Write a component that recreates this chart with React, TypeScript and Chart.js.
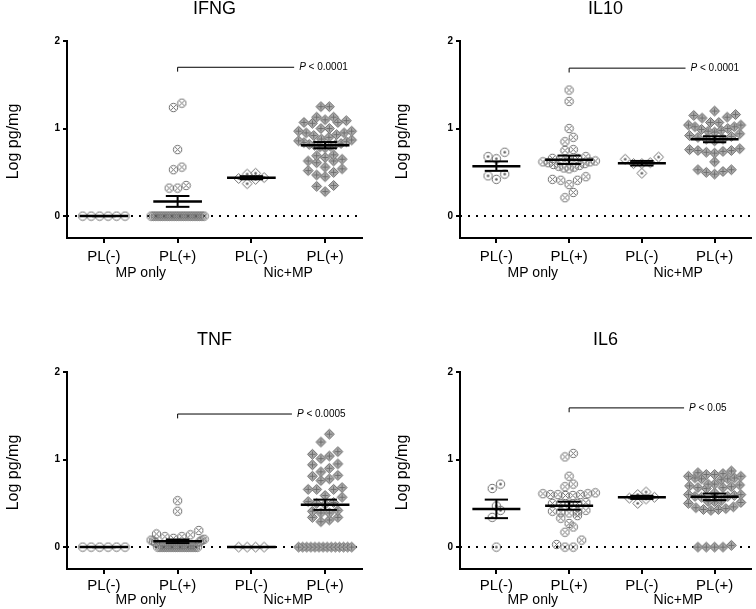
import React, { useEffect, useRef } from 'react';
import { Chart, registerables } from 'chart.js';

Chart.register(...registerables);

// ---------------- data ----------------
const CATEGORY_LABELS = ['PL(-)', 'PL(+)', 'PL(-)', 'PL(+)'];
const TREATMENT_LABELS = ['MP only', 'Nic+MP'];
const Y_TICKS = [0, 1, 2];

const ifngMpNeg = [0, 0, 0, 0, 0, 0];
const ifngMpPos = [1.24, 1.29, 0.76, 0.53, 0.56, 0.32, 0.32, 0.35,
  0, 0, 0, 0, 0, 0, 0, 0, 0, 0, 0, 0, 0, 0, 0, 0, 0, 0, 0, 0, 0, 0, 0, 0];
const ifngNicNeg = [0.48, 0.37, 0.42, 0.49, 0.44, 0.43];
const ifngNicPos = [1.25, 1.25, 1.13, 1.10, 1.07, 1.06, 1.07, 1.09, 1.13,
  1.0, 0.97, 0.95, 0.93, 0.95, 0.97, 1.0, 0.92, 0.90, 0.88, 0.87, 0.86, 0.85, 0.84,
  0.83, 0.82, 0.82, 0.81, 0.80, 0.79, 0.78, 0.70, 0.67, 0.63, 0.61, 0.63, 0.65, 0.69,
  0.56, 0.52, 0.54, 0.50, 0.47, 0.45, 0.35, 0.34, 0.28];

const il10MpNeg = [0.68, 0.655, 0.73, 0.48, 0.42, 0.46];
const il10MpPos = [1.44, 1.31, 1.0, 0.90, 0.85, 0.75, 0.76, 0.68, 0.66, 0.66, 0.65,
  0.64, 0.63, 0.62, 0.62, 0.61, 0.60, 0.59, 0.58, 0.57, 0.56, 0.55, 0.54,
  0.42, 0.41, 0.36, 0.41, 0.45, 0.27, 0.21];
const il10NicNeg = [0.65, 0.675, 0.61, 0.49, 0.60, 0.60];
const il10NicPos = [1.12, 1.15, 1.2, 1.16, 1.13, 1.07, 1.07, 1.04, 1.04, 1.02, 1.02,
  1.0, 0.99, 0.98, 0.97, 0.96, 0.94, 0.92, 0.91, 0.90, 0.88, 0.88, 0.86,
  0.77, 0.76, 0.75, 0.75, 0.74, 0.73, 0.72, 0.62, 0.53, 0.53, 0.51, 0.50, 0.48];

const tnfMpNeg = [0, 0, 0, 0, 0, 0];
const tnfMpPos = [0.53, 0.41, 0.19, 0.15, 0.14, 0.12, 0.12, 0.10, 0.09, 0.08, 0.08,
  0.07, 0.06, 0.05, 0, 0, 0, 0, 0, 0, 0, 0, 0, 0, 0, 0, 0, 0, 0, 0, 0, 0, 0];
const tnfNicNeg = [0, 0, 0, 0];
const tnfNicPos = [1.29, 1.2, 1.04, 1.09, 1.06, 0.95, 0.94, 1.01, 0.86, 0.90, 0.76,
  0.81, 0.82, 0.78, 0.66, 0.66, 0.66, 0.68, 0.59, 0.57, 0.42, 0.39, 0.34, 0.34, 0.39,
  0.41, 0.31, 0.29, 0.49, 0.51, 0.50, 0.52,
  0, 0, 0, 0, 0, 0, 0, 0, 0, 0, 0, 0, 0, 0];

const il6MpNeg = [0.67, 0.72, 0.42, 0.34, 0.47, 0];
const il6MpPos = [1.03, 1.07, 0.81, 0.72, 0.69, 0.62, 0.61, 0.61, 0.60, 0.60, 0.59,
  0.59, 0.60, 0.51, 0.50, 0.50, 0.49, 0.50, 0.42, 0.41, 0.40, 0.40, 0.39, 0.33, 0.36,
  0.23, 0.27, 0.17, 0.08, 0.03, 0, 0];
const il6NicNeg = [0.60, 0.50, 0.55, 0.63, 0.57, 0.56];
const il6NicPos = [0.85, 0.87, 0.84, 0.83, 0.81, 0.79, 0.78, 0.77, 0.78, 0.79, 0.81,
  0.83, 0.72, 0.71, 0.69, 0.68, 0.67, 0.68, 0.70, 0.72, 0.62, 0.60, 0.59, 0.58, 0.57,
  0.58, 0.60, 0.53, 0.52, 0.51, 0.50, 0.52, 0.46, 0.44, 0.43, 0.42, 0.43, 0.45,
  0.02, 0, 0, 0, 0];

const PANEL_TITLES = ['IFNG', 'IL10', 'TNF', 'IL6'];
const P_LABELS = ['< 0.0001', '< 0.0001', '< 0.0005', '< 0.05'];

// ---------------- layout / style ----------------
const FONT = '"Liberation Sans", Arial, Helvetica, sans-serif';

type Panel = {
  title: string;
  groups: number[][];
  styles: string[];
  left: number;
  top: number;
  axisLeft: number;
  rightPad: number;
  yTitleX: number;
  tickPad: number;
  groupY: number;
  bracketY: number;
  bracketEnd: number;
  p: string;
};

const PANELS: Panel[] = [
  { title: PANEL_TITLES[0], groups: [ifngMpNeg, ifngMpPos, ifngNicNeg, ifngNicPos],
    styles: ['circle', 'circleX', 'diamondDot', 'diamondPlus'],
    left: 0, top: 0, axisLeft: 67, rightPad: 16, yTitleX: 14, tickPad: 5, groupY: 277,
    bracketY: 1.70, bracketEnd: 2.58, p: P_LABELS[0] },
  { title: PANEL_TITLES[1], groups: [il10MpNeg, il10MpPos, il10NicNeg, il10NicPos],
    styles: ['circleDot', 'circleX', 'diamondDot', 'diamondPlus'],
    left: 378, top: 0, axisLeft: 82, rightPad: 0, yTitleX: 25, tickPad: 5, groupY: 277,
    bracketY: 1.69, bracketEnd: 2.6, p: P_LABELS[1] },
  { title: PANEL_TITLES[2], groups: [tnfMpNeg, tnfMpPos, tnfNicNeg, tnfNicPos],
    styles: ['circle', 'circleX', 'diamond', 'diamondPlus'],
    left: 0, top: 331, axisLeft: 67, rightPad: 16, yTitleX: 14, tickPad: 3, groupY: 273,
    bracketY: 1.52, bracketEnd: 2.55, p: P_LABELS[2] },
  { title: PANEL_TITLES[3], groups: [il6MpNeg, il6MpPos, il6NicNeg, il6NicPos],
    styles: ['circleDot', 'circleX', 'diamondDot', 'diamondPlus'],
    left: 378, top: 331, axisLeft: 82, rightPad: 0, yTitleX: 25, tickPad: 3, groupY: 273,
    bracketY: 1.59, bracketEnd: 2.58, p: P_LABELS[3] },
];

const CANVAS_W = 378;
const CANVAS_H = 290;
const PLOT_TOP = 41;
const PLOT_BOTTOM = 238;

const STROKE = '#6e6e6e';

function makeMarker(kind: string): HTMLCanvasElement {
  const c = document.createElement('canvas');
  const isDiamond = kind.startsWith('diamond');
  const S = isDiamond ? 13 : 11;
  c.width = S;
  c.height = S;
  const ctx = c.getContext('2d')!;
  const m = S / 2;
  ctx.strokeStyle = STROKE;
  ctx.fillStyle = STROKE;
  ctx.lineWidth = 1;
  if (isDiamond) {
    const r = 5;
    ctx.beginPath();
    ctx.moveTo(m, m - r);
    ctx.lineTo(m + r, m);
    ctx.lineTo(m, m + r);
    ctx.lineTo(m - r, m);
    ctx.closePath();
    if (kind === 'diamondPlus') {
      ctx.fillStyle = '#ababab';
      ctx.fill();
    }
    ctx.stroke();
    if (kind === 'diamondPlus') {
      ctx.beginPath();
      ctx.moveTo(m - 3, m); ctx.lineTo(m + 3, m);
      ctx.moveTo(m, m - 3); ctx.lineTo(m, m + 3);
      ctx.strokeStyle = STROKE;
      ctx.stroke();
    }
    if (kind === 'diamondDot') {
      ctx.beginPath();
      ctx.arc(m, m, 1.3, 0, Math.PI * 2);
      ctx.fillStyle = '#555';
      ctx.fill();
    }
  } else {
    ctx.beginPath();
    ctx.arc(m, m, 4.2, 0, Math.PI * 2);
    ctx.stroke();
    if (kind === 'circleX') {
      const d = 2.4;
      ctx.beginPath();
      ctx.moveTo(m - d, m - d); ctx.lineTo(m + d, m + d);
      ctx.moveTo(m + d, m - d); ctx.lineTo(m - d, m + d);
      ctx.stroke();
    }
    if (kind === 'circleDot') {
      ctx.beginPath();
      ctx.arc(m, m, 1.3, 0, Math.PI * 2);
      ctx.fillStyle = '#555';
      ctx.fill();
    }
  }
  return c;
}

// simple row-based scatter arrangement (GraphPad-like)
function arrange(values: number[], center: number) {
  const pxPerY = 87.5;
  const pxPerX = 74;
  const d = 8.5;
  const maxHalf = 0.36;
  const sorted = [...values].sort((a, b) => a - b);
  const rowH = d / pxPerY;
  const rows: number[][] = [];
  let cur: number[] | null = null;
  for (const v of sorted) {
    if (!cur || v - cur[0] > rowH) {
      cur = [v];
      rows.push(cur);
    } else cur.push(v);
  }
  const pts: { x: number; y: number }[] = [];
  for (const row of rows) {
    const n = row.length;
    let step = d / pxPerX;
    if (n > 1) step = Math.min(step, (2 * maxHalf) / (n - 1));
    const slots = Array.from({ length: n }, (_, i) => (i - (n - 1) / 2) * step)
      .sort((a, b) => Math.abs(a) - Math.abs(b) || a - b);
    row.forEach((v, i) => pts.push({ x: center + slots[i], y: v }));
  }
  return pts;
}

function meanSem(values: number[]) {
  const n = values.length;
  const mean = values.reduce((s, v) => s + v, 0) / n;
  const sd = Math.sqrt(values.reduce((s, v) => s + (v - mean) ** 2, 0) / (n - 1));
  return { mean, sem: sd / Math.sqrt(n) };
}

function lineDs(pts: { x: number; y: number }[], width: number, extra: any = {}) {
  return {
    data: pts,
    showLine: true,
    borderColor: '#000',
    backgroundColor: '#000',
    borderWidth: width,
    pointRadius: 0,
    order: 1,
    ...extra,
  };
}

function buildChart(canvas: HTMLCanvasElement, panel: Panel) {
  const datasets: any[] = [];
  datasets.push(lineDs([{ x: -0.5, y: 0 }, { x: 3.5, y: 0 }], 2, { borderDash: [2, 6], order: 10 }));
  panel.groups.forEach((vals, g) => {
    datasets.push({
      data: arrange(vals, g),
      pointStyle: makeMarker(panel.styles[g]),
      pointRadius: 4,
      showLine: false,
      order: 5,
    });
  });
  panel.groups.forEach((vals, g) => {
    const { mean, sem } = meanSem(vals);
    datasets.push(lineDs([{ x: g - 0.33, y: mean }, { x: g + 0.33, y: mean }], 2.5));
    datasets.push(lineDs([{ x: g - 0.16, y: mean + sem }, { x: g + 0.16, y: mean + sem }], 2));
    datasets.push(lineDs([{ x: g - 0.16, y: mean - sem }, { x: g + 0.16, y: mean - sem }], 2));
    datasets.push(lineDs([{ x: g, y: mean - sem }, { x: g, y: mean + sem }], 2));
  });
  datasets.push(lineDs([
    { x: 1, y: panel.bracketY - 0.05 },
    { x: 1, y: panel.bracketY },
    { x: panel.bracketEnd, y: panel.bracketY },
  ], 1));

  const annot = {
    id: 'annot',
    afterDraw(chart: any) {
      const { ctx, chartArea, scales } = chart;
      ctx.save();
      ctx.fillStyle = '#000';
      ctx.textAlign = 'center';
      ctx.textBaseline = 'alphabetic';
      ctx.font = `18px ${FONT}`;
      ctx.fillText(panel.title, (chartArea.left + chartArea.right) / 2, 14);

      ctx.save();
      ctx.translate(panel.yTitleX, (chartArea.top + chartArea.bottom) / 2 + 2);
      ctx.rotate(-Math.PI / 2);
      ctx.font = `16px ${FONT}`;
      ctx.textBaseline = 'middle';
      ctx.fillText('Log pg/mg', 0, 0);
      ctx.restore();

      ctx.font = `14px ${FONT}`;
      TREATMENT_LABELS.forEach((t, i) => {
        ctx.fillText(t, scales.x.getPixelForValue(i * 2 + 0.5), panel.groupY);
      });

      const py = scales.y.getPixelForValue(panel.bracketY);
      let px = scales.x.getPixelForValue(panel.bracketEnd) + 5;
      ctx.textAlign = 'left';
      ctx.textBaseline = 'middle';
      ctx.font = `italic 10px ${FONT}`;
      ctx.fillText('P', px, py);
      px += ctx.measureText('P').width;
      ctx.font = `10px ${FONT}`;
      ctx.fillText(' ' + panel.p, px, py);
      ctx.restore();
    },
  };

  return new Chart(canvas, {
    type: 'scatter',
    data: { datasets },
    plugins: [annot],
    options: {
      animation: false,
      responsive: false,
      events: [],
      layout: { padding: { left: 0, top: PLOT_TOP, right: panel.rightPad, bottom: 0 } },
      plugins: { legend: { display: false }, tooltip: { enabled: false }, title: { display: false } },
      scales: {
        x: {
          type: 'linear',
          min: -0.5,
          max: 3.5,
          afterBuildTicks: (axis: any) => { axis.ticks = [0, 1, 2, 3].map((value) => ({ value })); },
          afterFit: (axis: any) => { axis.height = CANVAS_H - PLOT_BOTTOM; },
          ticks: {
            color: '#000',
            font: { family: FONT, size: 15 },
            padding: panel.tickPad,
            maxRotation: 0,
            autoSkip: false,
            callback: (v: any) => CATEGORY_LABELS[v] ?? '',
          },
          grid: { display: true, drawOnChartArea: false, drawTicks: true, tickLength: 5, color: '#000', lineWidth: 2 },
          border: { display: true, color: '#000', width: 2 },
        },
        y: {
          type: 'linear',
          min: -0.25,
          max: 2,
          afterBuildTicks: (axis: any) => { axis.ticks = Y_TICKS.map((value) => ({ value })); },
          afterFit: (axis: any) => { axis.width = panel.axisLeft; },
          ticks: {
            color: '#000',
            font: { family: FONT, size: 10, weight: 'bold' },
            padding: 3,
            callback: (v: any) => String(v),
          },
          grid: { display: true, drawOnChartArea: false, drawTicks: true, tickLength: 4, color: '#000', lineWidth: 2 },
          border: { display: true, color: '#000', width: 2 },
        },
      },
    },
  } as any);
}

export default function App() {
  const refs = [useRef<HTMLCanvasElement>(null), useRef<HTMLCanvasElement>(null),
    useRef<HTMLCanvasElement>(null), useRef<HTMLCanvasElement>(null)];

  useEffect(() => {
    const charts = PANELS.map((p, i) => buildChart(refs[i].current!, p));
    return () => charts.forEach((c) => c.destroy());
  }, []);

  return (
    <div style={{ position: 'absolute', left: 0, top: 0, width: 756, height: 609, background: '#fff', overflow: 'hidden' }}>
      {PANELS.map((p, i) => (
        <canvas
          key={p.title}
          ref={refs[i]}
          width={CANVAS_W}
          height={CANVAS_H}
          style={{ position: 'absolute', left: p.left, top: p.top, width: CANVAS_W, height: CANVAS_H }}
        />
      ))}
    </div>
  );
}
